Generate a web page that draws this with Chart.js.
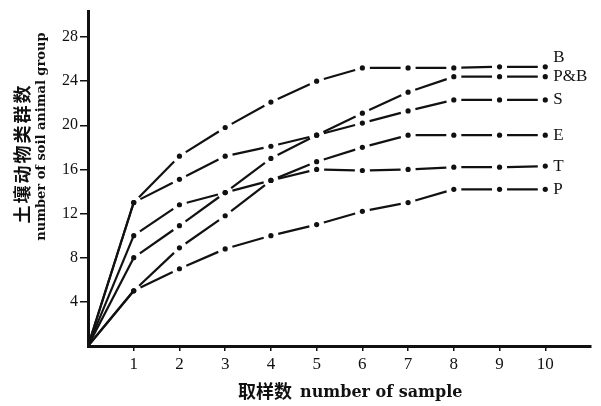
<!DOCTYPE html>
<html>
<head>
<meta charset="utf-8">
<script src="https://cdn.jsdelivr.net/npm/chart.js@4.4.0/dist/chart.umd.min.js"></script>
<style>
  html, body { margin: 0; padding: 0; background: #fff; }
  #wrap { width: 601px; height: 406px; }
</style>
</head>
<body>
<div id="wrap"><canvas id="chart" width="601" height="406"></canvas></div>
<script>
// number of samples (x) and cumulative number of soil animal groups (y)
const samples = [0, 1, 2, 3, 4, 5, 6, 7, 8, 9, 10];
const seriesNames = ['B', 'P&B', 'S', 'E', 'T', 'P'];
const valuesB  = [0, 13, 17.2, 19.8, 22.1, 24.0, 25.2, 25.2, 25.2, 25.3, 25.3];
const valuesPB = [0, 10, 12.8, 13.9, 17.0, 19.1, 21.1, 23.0, 24.4, 24.4, 24.4];
const valuesS  = [0, 13, 15.1, 17.2, 18.1, 19.1, 20.2, 21.3, 22.3, 22.3, 22.3];
const valuesE  = [0, 8, 10.9, 13.9, 15.0, 16.7, 18.0, 19.1, 19.1, 19.1, 19.1];
const valuesT  = [0, 5, 8.9, 11.8, 15.0, 16.0, 15.9, 16.0, 16.2, 16.2, 16.3];
const valuesP  = [0, 5, 7.0, 8.8, 10.0, 11.0, 12.2, 13.0, 14.2, 14.2, 14.2];
const yTicks = [4, 8, 12, 16, 20, 24, 28];
const xTicks = [1, 2, 3, 4, 5, 6, 7, 8, 9, 10];
const yTitleZh = '土壤动物类群数';
const yTitleEn = 'number of soil animal group';
const xTitleZh = '取样数';
const xTitleEn = 'number of sample';

const allValues = [valuesB, valuesPB, valuesS, valuesE, valuesT, valuesP];

// gap at both ends of each segment, like the hand-drawn original
const GAP = 7.5;
function segLen(c) {
  return Math.hypot(c.p1.x - c.p0.x, c.p1.y - c.p0.y);
}

const datasets = seriesNames.map((name, i) => ({
  label: name,
  data: samples.map((x, j) => ({ x, y: allValues[i][j] })),
  borderColor: '#111',
  backgroundColor: '#111',
  borderWidth: 2.2,
  pointRadius: samples.map(x => x === 0 ? 0 : 2.6),
  pointBorderWidth: 0,
  tension: 0,
  segment: {
    borderDash: c => c.p0DataIndex === 0 ? [] : [segLen(c) - 2 * GAP, 2 * GAP],
    borderDashOffset: c => c.p0DataIndex === 0 ? 0 : segLen(c) - GAP
  }
}));

const endLabels = {
  id: 'endLabels',
  afterDatasetsDraw(chart) {
    const { ctx } = chart;
    ctx.save();
    ctx.fillStyle = '#111';
    ctx.font = '17px "Liberation Serif"';
    ctx.textAlign = 'left';
    ctx.textBaseline = 'middle';
    chart.data.datasets.forEach((ds, i) => {
      const meta = chart.getDatasetMeta(i);
      const last = meta.data[meta.data.length - 1];
      const lift = ds.label === 'B' ? -9 : 0;
      ctx.fillText(ds.label, last.x + 8, last.y + lift);
    });
    ctx.restore();
  }
};

const axisTitles = {
  id: 'axisTitles',
  afterDraw(chart) {
    const { ctx, chartArea } = chart;
    ctx.save();
    ctx.fillStyle = '#111';
    ctx.textAlign = 'center';
    ctx.textBaseline = 'middle';

    ctx.save();
    ctx.translate(22, chartArea.top + 142);
    ctx.rotate(-Math.PI / 2);
    ctx.font = 'bold 18px "Noto Sans CJK SC"';
    ctx.letterSpacing = '2px';
    ctx.fillText(yTitleZh, 0, 0);
    ctx.restore();

    ctx.save();
    ctx.translate(42, chartArea.top + 125);
    ctx.rotate(-Math.PI / 2);
    ctx.font = 'bold 13px "DejaVu Serif"';
    ctx.fillText(yTitleEn, 0, 0);
    ctx.restore();

    ctx.textAlign = 'left';
    ctx.textBaseline = 'alphabetic';
    ctx.font = 'bold 18px "Noto Sans CJK SC"';
    ctx.fillText(xTitleZh, 238, 398);
    ctx.font = 'bold 16px "DejaVu Serif"';
    ctx.fillText(xTitleEn, 300, 397);
    ctx.restore();
  }
};

new Chart(document.getElementById('chart'), {
  type: 'line',
  data: { datasets },
  options: {
    responsive: false,
    animation: false,
    layout: { padding: { left: 0, top: 5, right: 10, bottom: 0 } },
    plugins: { legend: { display: false }, tooltip: { enabled: false } },
    scales: {
      x: {
        type: 'linear',
        min: 0,
        max: 11,
        afterBuildTicks: s => { s.ticks = xTicks.map(v => ({ value: v })); },
        afterFit: s => { s.height = 60; },
        border: { display: true, color: '#111', width: 3 },
        grid: { drawOnChartArea: false, drawTicks: true, tickLength: 5, color: '#111', lineWidth: 1.5 },
        ticks: { color: '#111', padding: 3, maxRotation: 0, font: { family: 'Liberation Serif', size: 17 } }
      },
      y: {
        min: 0,
        max: 30.3,
        afterBuildTicks: s => { s.ticks = yTicks.map(v => ({ value: v })); },
        afterFit: s => { s.width = 88; },
        border: { display: true, color: '#111', width: 3 },
        grid: { drawOnChartArea: false, drawTicks: true, tickLength: 8, color: '#111', lineWidth: 1.5 },
        ticks: { color: '#111', padding: 2, font: { family: 'Liberation Serif', size: 16 } }
      }
    }
  },
  plugins: [endLabels, axisTitles]
});
</script>
</body>
</html>
